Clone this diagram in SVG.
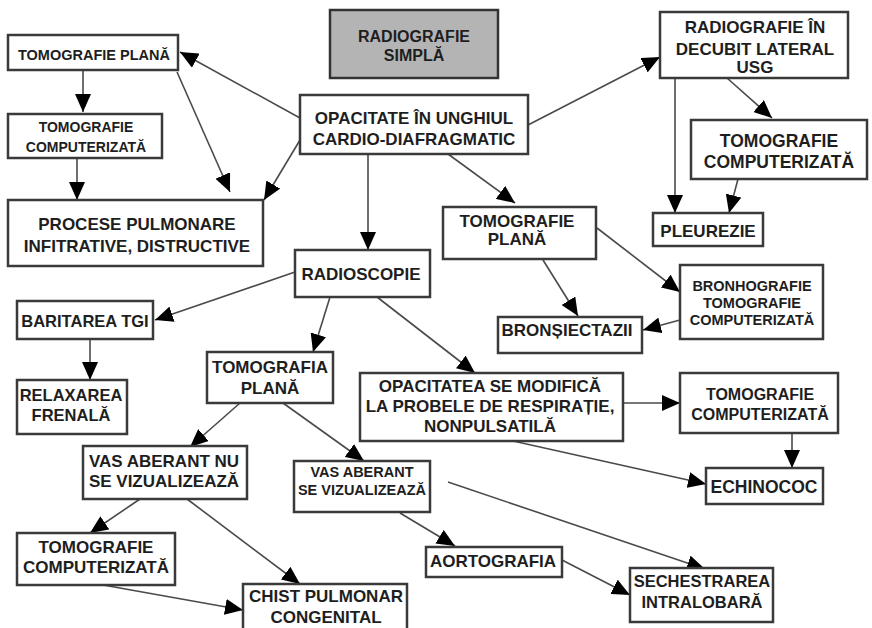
<svg xmlns="http://www.w3.org/2000/svg" width="872" height="628" viewBox="0 0 872 628">
<defs>
<style>
.b{fill:#fff;stroke:#3a3a3a;stroke-width:2.5}
.g{fill:#b4b4b4;stroke:#333;stroke-width:2.5}
text{font-family:"Liberation Sans",Arial,sans-serif;font-weight:bold;fill:#1e1e1e;text-anchor:middle}
.c line{stroke:#4a4a4a;stroke-width:1.6;marker-end:url(#ah)}
</style>
<marker id="ah" markerUnits="userSpaceOnUse" markerWidth="18" markerHeight="16" refX="18" refY="8" orient="auto">
<path d="M0,0 L18,8 L0,16 z" fill="#000"/>
</marker>
</defs>
<rect width="872" height="628" fill="#fff"/>
<g class="c">
<line x1="300" y1="118" x2="180" y2="52"/>
<line x1="177" y1="72" x2="230" y2="192"/>
<line x1="300" y1="140" x2="264" y2="200"/>
<line x1="83" y1="70" x2="83" y2="112"/>
<line x1="77" y1="158" x2="77" y2="200"/>
<line x1="368" y1="154" x2="368" y2="250"/>
<line x1="448" y1="154" x2="515" y2="203"/>
<line x1="528" y1="125" x2="660" y2="57"/>
<line x1="675" y1="78" x2="675" y2="213"/>
<line x1="727" y1="78" x2="772" y2="118"/>
<line x1="738" y1="179" x2="729" y2="213"/>
<line x1="597" y1="228" x2="680" y2="292"/>
<line x1="543" y1="260" x2="578" y2="316"/>
<line x1="680" y1="320" x2="643" y2="330"/>
<line x1="295" y1="272" x2="155" y2="320"/>
<line x1="90" y1="339" x2="90" y2="380"/>
<line x1="330" y1="297" x2="313" y2="352"/>
<line x1="377" y1="297" x2="475" y2="373"/>
<line x1="240" y1="403" x2="190" y2="447"/>
<line x1="283" y1="403" x2="364" y2="461"/>
<line x1="623" y1="403" x2="680" y2="403"/>
<line x1="792" y1="433" x2="792" y2="468"/>
<line x1="513" y1="441" x2="706" y2="484"/>
<line x1="140" y1="499" x2="90" y2="533"/>
<line x1="187" y1="499" x2="300" y2="584"/>
<line x1="103" y1="585" x2="243" y2="610"/>
<line x1="400" y1="513" x2="455" y2="546"/>
<line x1="448" y1="482" x2="705" y2="569"/>
<line x1="562" y1="560" x2="630" y2="595"/>
</g>
<g id="n1"><rect class="b" x="8" y="35" width="170" height="35"/><text x="94" y="60" font-size="14.5">TOMOGRAFIE PLANĂ</text></g>
<g id="n2"><rect class="b" x="8" y="114" width="154" height="44"/><text x="86" y="132" font-size="14">TOMOGRAFIE</text><text x="86" y="152" font-size="14">COMPUTERIZATĂ</text></g>
<g id="n3"><rect class="b" x="8" y="200" width="255" height="66"/><text x="137" y="230" font-size="17">PROCESE PULMONARE</text><text x="137" y="252" font-size="17">INFITRATIVE, DISTRUCTIVE</text></g>
<g id="n4"><rect class="g" x="330" y="10" width="168" height="68"/><text x="414" y="42" font-size="16">RADIOGRAFIE</text><text x="414" y="61" font-size="16">SIMPLĂ</text></g>
<g id="n5"><rect class="b" x="300" y="95" width="228" height="59"/><text x="414" y="124" font-size="17">OPACITATE ÎN UNGHIUL</text><text x="414" y="145" font-size="17">CARDIO-DIAFRAGMATIC</text></g>
<g id="n6"><rect class="b" x="295" y="250" width="135" height="47"/><text x="361" y="280" font-size="17">RADIOSCOPIE</text></g>
<g id="n7"><rect class="b" x="443" y="207" width="153" height="52"/><text x="517" y="227" font-size="17">TOMOGRAFIE</text><text x="517" y="245" font-size="17">PLANĂ</text></g>
<g id="n8"><rect class="b" x="660" y="12" width="188" height="66"/><text x="755" y="33" font-size="17">RADIOGRAFIE ÎN</text><text x="755" y="55" font-size="17">DECUBIT LATERAL</text><text x="755" y="73" font-size="17">USG</text></g>
<g id="n9"><rect class="b" x="691" y="120" width="176" height="59"/><text x="779" y="147" font-size="17.5">TOMOGRAFIE</text><text x="779" y="168" font-size="17.5">COMPUTERIZATĂ</text></g>
<g id="n10"><rect class="b" x="653" y="213" width="110" height="33"/><text x="708" y="237" font-size="17">PLEUREZIE</text></g>
<g id="n11"><rect class="b" x="680" y="265" width="143" height="74"/><text x="752" y="291" font-size="14.5">BRONHOGRAFIE</text><text x="752" y="308" font-size="14.5">TOMOGRAFIE</text><text x="752" y="325" font-size="14.5">COMPUTERIZATĂ</text></g>
<g id="n12"><rect class="b" x="498" y="317" width="144" height="36"/><text x="567" y="336" font-size="17">BRONȘIECTAZII</text></g>
<g id="n13"><rect class="b" x="17" y="301" width="136" height="38"/><text x="85" y="327" font-size="16.5">BARITAREA TGI</text></g>
<g id="n14"><rect class="b" x="17" y="380" width="110" height="54"/><text x="71" y="401" font-size="16.5">RELAXAREA</text><text x="71" y="421" font-size="16.5">FRENALĂ</text></g>
<g id="n15"><rect class="b" x="207" y="352" width="126" height="51"/><text x="270" y="373" font-size="17">TOMOGRAFIA</text><text x="270" y="394" font-size="17">PLANĂ</text></g>
<g id="n16"><rect class="b" x="360" y="373" width="263" height="68"/><text x="490" y="392" font-size="17">OPACITATEA SE MODIFICĂ</text><text x="490" y="412" font-size="17">LA PROBELE DE RESPIRAȚIE,</text><text x="490" y="432" font-size="17">NONPULSATILĂ</text></g>
<g id="n17"><rect class="b" x="680" y="373" width="158" height="60"/><text x="760" y="400" font-size="16">TOMOGRAFIE</text><text x="760" y="420" font-size="16">COMPUTERIZATĂ</text></g>
<g id="n18"><rect class="b" x="706" y="468" width="117" height="36"/><text x="764" y="493" font-size="17.5">ECHINOCOC</text></g>
<g id="n19"><rect class="b" x="83" y="446" width="164" height="53"/><text x="164" y="467" font-size="17">VAS ABERANT NU</text><text x="164" y="487" font-size="17">SE VIZUALIZEAZĂ</text></g>
<g id="n20"><rect class="b" x="294" y="461" width="136" height="51"/><text x="362" y="477" font-size="14.5">VAS ABERANT</text><text x="362" y="495" font-size="14.5">SE VIZUALIZEAZĂ</text></g>
<g id="n21"><rect class="b" x="17" y="533" width="158" height="52"/><text x="96" y="553" font-size="17">TOMOGRAFIE</text><text x="96" y="573" font-size="17">COMPUTERIZATĂ</text></g>
<g id="n22"><rect class="b" x="243" y="584" width="164" height="48"/><text x="326" y="602" font-size="17">CHIST PULMONAR</text><text x="326" y="623" font-size="17">CONGENITAL</text></g>
<g id="n23"><rect class="b" x="426" y="547" width="136" height="30"/><text x="493" y="567" font-size="17">AORTOGRAFIA</text></g>
<g id="n24"><rect class="b" x="630" y="568" width="143" height="54"/><text x="702" y="587" font-size="16.5">SECHESTRAREA</text><text x="702" y="608" font-size="16.5">INTRALOBARĂ</text></g>
</svg>
